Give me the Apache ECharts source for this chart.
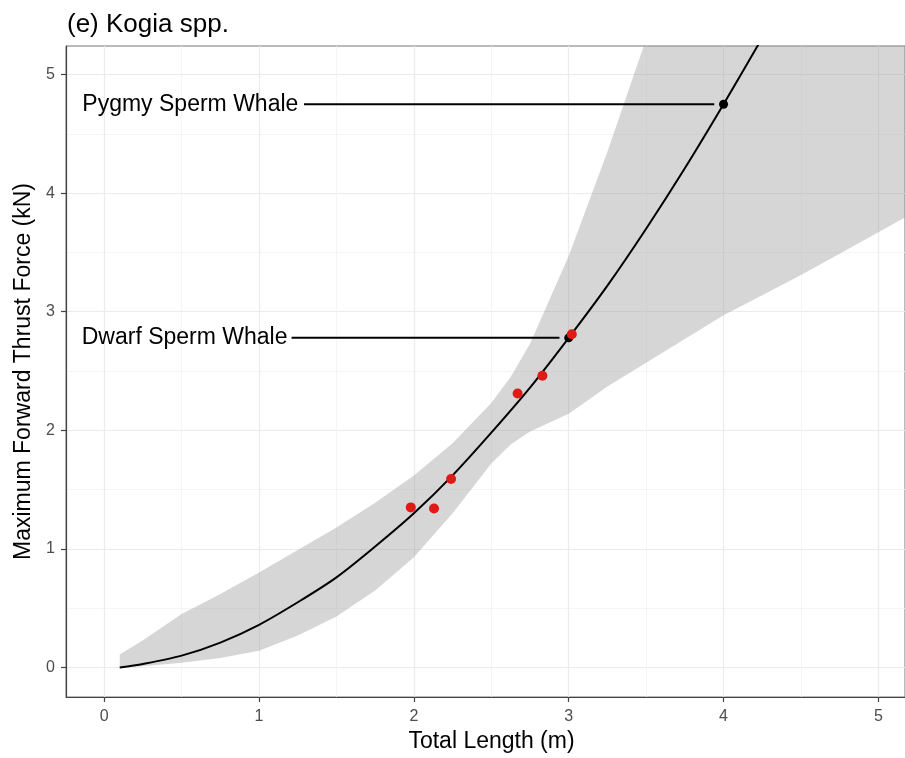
<!DOCTYPE html>
<html>
<head>
<meta charset="utf-8">
<title>Kogia spp.</title>
<script src="https://cdn.jsdelivr.net/npm/echarts@6/dist/echarts.min.js"></script>
<style>
  html, body { margin: 0; padding: 0; background: #fff; overflow: hidden; }
  #main { width: 100vw; height: 100vh; }
</style>
</head>
<body>
<div id="main"></div>
<script>
// fitted curve
var fitLength = [0.1, 0.25, 0.5, 0.75, 1.0, 1.25, 1.5, 1.75, 2.0, 2.25, 2.5, 2.75, 3.0, 3.25, 3.5, 3.75, 4.0, 4.25];
var fitForce  = [0.0, 0.03, 0.10, 0.21, 0.36, 0.55, 0.76, 1.02, 1.30, 1.62, 1.98, 2.36, 2.78, 3.22, 3.70, 4.21, 4.75, 5.31];

// confidence ribbon (upper edge leaves the panel near 3.5 m)
var bandLength = [0.1, 0.25, 0.5, 0.75, 1.0, 1.25, 1.5, 1.75, 2.0, 2.25, 2.5, 2.625, 2.75, 3.0, 3.25, 3.5, 3.75, 4.0, 4.25, 4.5, 4.75, 5.0, 5.25];
var bandLower  = [0.0, 0.01, 0.04, 0.08, 0.14, 0.27, 0.43, 0.65, 0.93, 1.30, 1.72, 1.88, 1.99, 2.14, 2.37, 2.57, 2.77, 2.97, 3.14, 3.31, 3.49, 3.67, 3.85];
var bandUpper  = [0.11, 0.23, 0.45, 0.62, 0.80, 0.99, 1.18, 1.39, 1.62, 1.89, 2.23, 2.45, 2.73, 3.47, 4.35, 5.3, 5.3, 5.3, 5.3, 5.3, 5.3, 5.3, 5.3];

// measured animals
var obsLength = [1.98, 2.13, 2.24, 2.67, 2.83, 3.02];
var obsForce  = [1.35, 1.34, 1.59, 2.31, 2.46, 2.81];

// species predictions and their labels
var speciesNames  = ['Dwarf Sperm Whale', 'Pygmy Sperm Whale'];
var speciesLength = [3.0, 4.0];
var speciesForce  = [2.78, 4.75];
var labelEnd      = [1.19, 1.26];
var segmentStart  = [1.21, 1.29];
var segmentEnd    = [2.94, 3.94];

var xTicks = [0, 1, 2, 3, 4, 5];
var yTicks = [0, 1, 2, 3, 4, 5];

var font = 'Liberation Sans, Arial, Helvetica, sans-serif';

var myChart = echarts.init(document.getElementById('main'));

function pairs(xs, ys) {
  return xs.map(function (x, i) { return [x, ys[i]]; });
}

var series = [
  {
    // ribbon drawn as one polygon: upper edge out, lower edge back
    name: 'band',
    type: 'custom',
    data: bandLength.map(function (x, i) { return [x, bandLower[i], bandUpper[i]]; }),
    encode: { x: 0, y: [1, 2] },
    clip: true,
    silent: true,
    z: 1,
    renderItem: function (params, api) {
      if (params.dataIndex !== 0) return null;
      var pts = [];
      for (var i = 0; i < bandLength.length; i++) {
        pts.push(api.coord([bandLength[i], bandUpper[i]]));
      }
      for (var j = bandLength.length - 1; j >= 0; j--) {
        pts.push(api.coord([bandLength[j], bandLower[j]]));
      }
      return {
        type: 'polygon',
        shape: { points: pts },
        style: { fill: 'rgba(153,153,153,0.4)', stroke: null }
      };
    }
  },
  {
    name: 'fit',
    type: 'line',
    data: pairs(fitLength, fitForce),
    symbol: 'none',
    smooth: 0.3,
    lineStyle: { color: '#000', width: 2 },
    clip: true,
    z: 3
  }
];

// label segments
speciesNames.forEach(function (n, i) {
  series.push({
    name: n + ' segment',
    type: 'line',
    data: [[segmentStart[i], speciesForce[i]], [segmentEnd[i], speciesForce[i]]],
    symbol: 'none',
    lineStyle: { color: '#000', width: 2 },
    z: 4
  });
});

series.push({
  name: 'species',
  type: 'scatter',
  data: pairs(speciesLength, speciesForce),
  symbolSize: 9,
  itemStyle: { color: '#000', opacity: 1 },
  z: 5
});

series.push({
  name: 'observed',
  type: 'scatter',
  data: pairs(obsLength, obsForce),
  symbolSize: 10,
  itemStyle: { color: '#e01b17', opacity: 1 },
  z: 6
});

series.push({
  name: 'labels',
  type: 'scatter',
  data: speciesNames.map(function (n, i) {
    return { name: n, value: [labelEnd[i], speciesForce[i]] };
  }),
  symbolSize: 0,
  itemStyle: { opacity: 1 },
  label: {
    show: true,
    position: 'left',
    distance: 1,
    formatter: '{b}',
    color: '#000',
    opacity: 1,
    fontSize: 23,
    fontFamily: font
  },
  z: 7
});

myChart.setOption({
  animation: false,
  backgroundColor: '#fff',
  title: {
    text: '(e) Kogia spp.',
    left: 62,
    top: 7,
    textStyle: { fontSize: 26, fontWeight: 'normal', color: '#000', fontFamily: font }
  },
  grid: {
    left: 66,
    right: -2,
    top: 46,
    bottom: 57,
    show: true,
    backgroundColor: '#fff',
    borderColor: '#777',
    borderWidth: 1
  },
  xAxis: {
    type: 'value',
    min: -0.247,
    max: 5.172,
    splitNumber: xTicks.length - 1,
    name: 'Total Length (m)',
    nameLocation: 'middle',
    nameGap: 33,
    nameTextStyle: { fontSize: 23, color: '#000', fontFamily: font, padding: [0, 0, 0, 12] },
    axisLine: { show: true, onZero: false, lineStyle: { color: '#444', width: 1.2 } },
    axisTick: { show: true, length: 5, customValues: xTicks, lineStyle: { color: '#444', width: 1.2 } },
    axisLabel: { fontSize: 16, color: '#4d4d4d', margin: 12, fontFamily: font, customValues: xTicks },
    splitLine: { show: true, lineStyle: { color: '#ebebeb', width: 1.2 } },
    minorTick: { show: false, splitNumber: 2 },
    minorSplitLine: { show: true, lineStyle: { color: '#f3f3f3', width: 0.8 } }
  },
  yAxis: {
    type: 'value',
    min: -0.249,
    max: 5.241,
    splitNumber: yTicks.length - 1,
    name: 'Maximum Forward Thrust Force (kN)',
    nameLocation: 'middle',
    nameGap: 25,
    nameTextStyle: { fontSize: 23, color: '#000', fontFamily: font },
    axisLine: { show: true, onZero: false, lineStyle: { color: '#444', width: 1.2 } },
    axisTick: { show: true, length: 5, customValues: yTicks, lineStyle: { color: '#444', width: 1.2 } },
    axisLabel: { fontSize: 16, color: '#4d4d4d', margin: 11, fontFamily: font, customValues: yTicks },
    splitLine: { show: true, lineStyle: { color: '#ebebeb', width: 1.2 } },
    minorTick: { show: false, splitNumber: 2 },
    minorSplitLine: { show: true, lineStyle: { color: '#f3f3f3', width: 0.8 } }
  },
  series: series
});
</script>
</body>
</html>
